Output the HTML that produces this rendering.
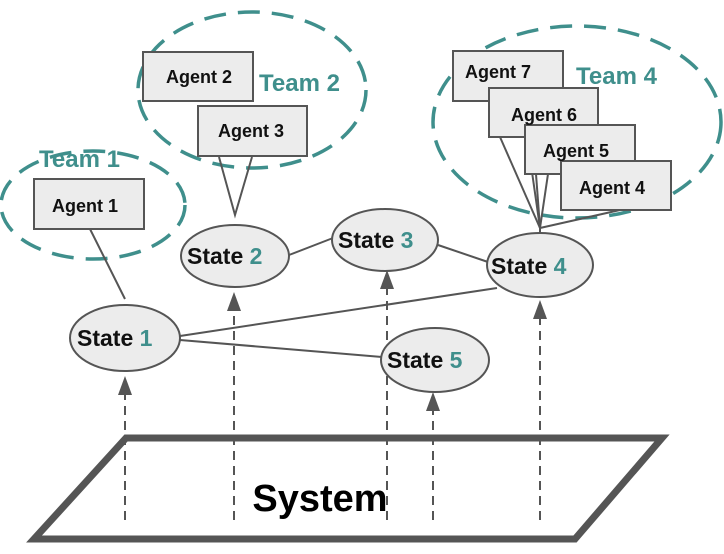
<!DOCTYPE html>
<html><head><meta charset="utf-8"><style>
html,body{margin:0;padding:0;background:#fff;}
svg{display:block;}
text{font-family:"Liberation Sans",sans-serif;font-weight:bold;}
</style></head><body>
<svg width="724" height="554" viewBox="0 0 724 554" xmlns="http://www.w3.org/2000/svg">
<defs>
<marker id="ar" markerWidth="10" markerHeight="12" refX="5" refY="0" orient="auto" markerUnits="userSpaceOnUse"/>
</defs>
<!-- team ellipses -->
<g fill="none" stroke="#3f8f8c" stroke-width="3.5" stroke-dasharray="22 12">
<ellipse cx="93" cy="205" rx="92" ry="54"/>
<ellipse cx="252" cy="90" rx="114" ry="78"/>
<ellipse cx="577" cy="122" rx="144" ry="96"/>
</g>
<g fill="#3f8f8c" font-size="24">
<text x="39" y="167">Team 1</text>
<text x="259" y="91">Team 2</text>
<text x="576" y="84">Team 4</text>
</g>
<!-- connectors -->
<g stroke="#555" stroke-width="2" fill="none">
<line x1="90" y1="229" x2="125" y2="299"/>
<polyline points="219,157 235,215 252,157"/>
<line x1="500" y1="137" x2="540" y2="228"/>
<line x1="527" y1="137" x2="540" y2="228"/>
<line x1="536" y1="174" x2="540" y2="228"/>
<line x1="548" y1="174" x2="540" y2="228"/>
<line x1="620" y1="210" x2="540" y2="228"/>
<line x1="540" y1="228" x2="540" y2="236"/>
<line x1="180" y1="336" x2="497" y2="288"/>
<line x1="180" y1="340" x2="382" y2="357"/>
<line x1="289" y1="255" x2="333" y2="238"/>
<line x1="438" y1="245" x2="488" y2="262"/>
</g>
<!-- agent boxes -->
<g fill="#ececec" stroke="#555" stroke-width="2">
<rect x="34" y="179" width="110" height="50"/>
<rect x="143" y="52" width="110" height="49"/>
<rect x="198" y="106" width="109" height="50"/>
<rect x="453" y="51" width="110" height="50"/>
<rect x="489" y="88" width="109" height="49"/>
<rect x="525" y="125" width="110" height="49"/>
<rect x="561" y="161" width="110" height="49"/>
</g>
<g fill="#111" font-size="18">
<text x="52" y="212">Agent 1</text>
<text x="166" y="83">Agent 2</text>
<text x="218" y="137">Agent 3</text>
<text x="465" y="78">Agent 7</text>
<text x="511" y="121">Agent 6</text>
<text x="543" y="157">Agent 5</text>
<text x="579" y="194">Agent 4</text>
</g>
<!-- dashed arrows -->
<g stroke="#555" stroke-width="2" stroke-dasharray="9 6">
<line x1="125" y1="520" x2="125" y2="395"/>
<line x1="234" y1="520" x2="234" y2="310"/>
<line x1="387" y1="520" x2="387" y2="288"/>
<line x1="433" y1="520" x2="433" y2="410"/>
<line x1="540" y1="520" x2="540" y2="318"/>
</g>
<g fill="#555">
<polygon points="125,376 118,395 132,395"/>
<polygon points="234,292 227,311 241,311"/>
<polygon points="387,270 380,289 394,289"/>
<polygon points="433,392 426,411 440,411"/>
<polygon points="540,300 533,319 547,319"/>
</g>
<!-- states -->
<g fill="#ececec" stroke="#555" stroke-width="2">
<ellipse cx="125" cy="338" rx="55" ry="33"/>
<ellipse cx="235" cy="256" rx="54" ry="31"/>
<ellipse cx="385" cy="240" rx="53" ry="31"/>
<ellipse cx="540" cy="265" rx="53" ry="32"/>
<ellipse cx="435" cy="360" rx="54" ry="32"/>
</g>
<g font-size="23" fill="#111">
<text x="77" y="346">State <tspan fill="#3f8f8c">1</tspan></text>
<text x="187" y="264">State <tspan fill="#3f8f8c">2</tspan></text>
<text x="338" y="248">State <tspan fill="#3f8f8c">3</tspan></text>
<text x="491" y="274">State <tspan fill="#3f8f8c">4</tspan></text>
<text x="387" y="368">State <tspan fill="#3f8f8c">5</tspan></text>
</g>
<!-- system -->
<polygon points="126,438 662,438 575,539 34,539" fill="none" stroke="#555" stroke-width="7" stroke-linejoin="miter"/>
<text x="320" y="511" font-size="38" fill="#000" text-anchor="middle">System</text>
</svg>
</body></html>
